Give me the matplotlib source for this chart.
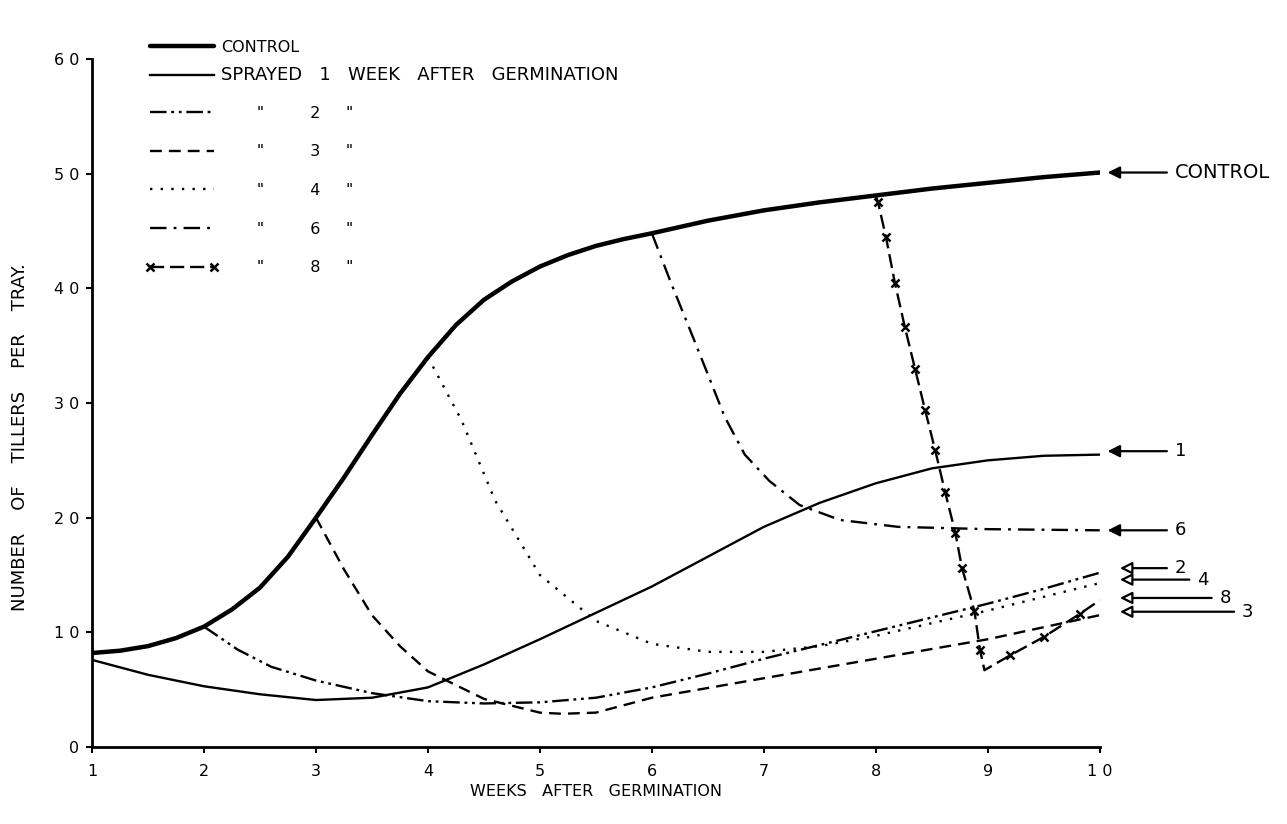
import numpy as np
import matplotlib
matplotlib.use("Agg")
import matplotlib.pyplot as plt

plt.rcParams['font.family'] = ['DejaVu Sans']

# values (weeks, tillers per tray)
control_x = [1, 1.25, 1.5, 1.75, 2, 2.25, 2.5, 2.75, 3, 3.25, 3.5, 3.75, 4, 4.25, 4.5,
             4.75, 5, 5.25, 5.5, 5.75, 6, 6.5, 7, 7.5, 8, 8.5, 9, 9.5, 10]
control_y = [8.2, 8.4, 8.8, 9.5, 10.5, 12.0, 13.9, 16.6, 20.0, 23.5, 27.2, 30.8, 34.0,
             36.8, 39.0, 40.6, 41.9, 42.9, 43.7, 44.3, 44.8, 45.9, 46.8, 47.5, 48.1,
             48.7, 49.2, 49.7, 50.1]

wk1_x = [1, 1.5, 2, 2.5, 3, 3.5, 4, 4.5, 5, 5.5, 6, 6.5, 7, 7.5, 8, 8.5, 9, 9.5, 10]
wk1_y = [7.6, 6.3, 5.3, 4.6, 4.1, 4.3, 5.2, 7.2, 9.4, 11.7, 14.0, 16.6, 19.2, 21.3,
         23.0, 24.3, 25.0, 25.4, 25.5]

wk2_x = [2, 2.3, 2.6, 3, 3.5, 4, 4.5, 5, 5.5, 6, 6.5, 7, 7.5, 8, 8.5, 9, 9.5, 10]
wk2_y = [10.5, 8.5, 7.0, 5.8, 4.7, 4.0, 3.8, 3.9, 4.3, 5.2, 6.4, 7.7, 8.9, 10.1,
         11.3, 12.5, 13.8, 15.2]

wk3_x = [3, 3.25, 3.5, 3.75, 4, 4.5, 5, 5.2, 5.5, 6, 7, 8, 9, 10]
wk3_y = [20.0, 15.5, 11.5, 8.8, 6.6, 4.2, 3.0, 2.9, 3.0, 4.3, 6.0, 7.7, 9.4, 11.5]

wk4_x = [4, 4.3, 4.6, 5, 5.5, 6, 6.5, 7, 7.5, 8, 8.5, 9, 9.5, 10]
wk4_y = [34.0, 28.5, 21.5, 15.0, 11.0, 9.0, 8.3, 8.3, 8.8, 9.7, 10.8, 11.9, 13.1, 14.3]

wk6_x = [6, 6.17, 6.34, 6.5, 6.65, 6.83, 7.05, 7.32, 7.68, 8.2, 9, 10]
wk6_y = [44.8, 40.5, 36.4, 32.5, 28.8, 25.5, 23.2, 21.1, 19.8, 19.2, 19.0, 18.9]

wk8_x = [8.0, 8.02, 8.09, 8.17, 8.26, 8.35, 8.44, 8.53, 8.62, 8.71, 8.77, 8.88, 8.93,
         8.97, 9.2, 9.5, 9.82, 10.0]
wk8_y = [48.1, 47.5, 44.5, 40.5, 36.6, 33.0, 29.4, 25.9, 22.2, 18.7, 15.6, 11.9, 8.5,
         6.7, 8.0, 9.6, 11.6, 12.8]
wk8_marks = [1, 2, 3, 4, 5, 6, 7, 8, 9, 10, 11, 12, 14, 15, 16]

x_ticks = [1, 2, 3, 4, 5, 6, 7, 8, 9, 10]
x_labels = ['1', '2', '3', '4', '5', '6', '7', '8', '9', '1 0']
y_ticks = [0, 10, 20, 30, 40, 50, 60]
y_labels = ['0', '1 0', '2 0', '3 0', '4 0', '5 0', '6 0']

# right-hand labels and the level of their arrows
end_labels = ['CONTROL', '1', '6', '2', '4', '8', '3']
end_y = [50.1, 25.8, 18.9, 15.6, 14.6, 13.0, 11.8]

fig = plt.figure(figsize=(12.87, 8.24), dpi=100)
ax = fig.add_axes([0.0715, 0.0934, 0.783, 0.835])

lw = 1.7
l_ctrl, = ax.plot(control_x, control_y, color='black', lw=3.2, solid_capstyle='round')
l1, = ax.plot(wk1_x, wk1_y, color='black', lw=lw)
l2, = ax.plot(wk2_x, wk2_y, color='black', lw=lw, ls=(0, (7, 2, 1.2, 2, 1.2, 2)))
l3, = ax.plot(wk3_x, wk3_y, color='black', lw=lw, ls=(0, (5, 3)))
l4, = ax.plot(wk4_x, wk4_y, color='black', lw=lw, ls=(0, (1, 3.5)))
l6, = ax.plot(wk6_x, wk6_y, color='black', lw=lw, ls=(0, (7, 3, 1.2, 3)))
l8, = ax.plot(wk8_x, wk8_y, color='black', lw=lw, ls=(0, (6, 2.5)),
              marker='x', markersize=6, markeredgewidth=1.8, markevery=wk8_marks)

ax.set_xlim(1, 10)
ax.set_ylim(0, 60)
ax.set_xticks(x_ticks)
ax.set_xticklabels(x_labels)
ax.set_yticks(y_ticks)
ax.set_yticklabels(y_labels)
ax.spines['top'].set_visible(False)
ax.spines['right'].set_visible(False)
ax.spines['left'].set_linewidth(2)
ax.spines['bottom'].set_linewidth(2)
ax.tick_params(axis='both', direction='out', length=4, width=1.5, labelsize=11.5)
ax.tick_params(axis='x', pad=8)
ax.tick_params(axis='y', pad=5)
ax.set_xlabel('WEEKS   AFTER   GERMINATION', fontsize=11.5, labelpad=4)
ax.set_ylabel('NUMBER    OF    TILLERS    PER    TRAY.', fontsize=13)
ax.yaxis.set_label_coords(-0.063, 0.45)

# arrows pointing at the end of each curve
for i, (txt, yv) in enumerate(zip(end_labels, end_y)):
    if i < 3:
        head_x, tail_x, fc = 10.07, 10.6, 'black'
    else:
        head_x, tail_x, fc = 10.18, 10.6 + 0.2 * (i - 3), 'white'
    ax.annotate('', xy=(head_x, yv), xytext=(tail_x, yv), annotation_clip=False,
                arrowprops=dict(arrowstyle='-|>', color='black', lw=1.6, fc=fc,
                                mutation_scale=18, shrinkA=0, shrinkB=0))
    ax.text(tail_x + 0.07, yv, txt, fontsize=14 if i == 0 else 13,
            va='center', ha='left', clip_on=False)

leg1 = ax.legend([l_ctrl, l1], ['CONTROL', 'SPRAYED   1   WEEK   AFTER   GERMINATION'],
                 loc='upper left', bbox_to_anchor=(0.0575, 1.028), frameon=False,
                 fontsize=11.5, handlelength=4.0, handletextpad=0.45,
                 labelspacing=0.72, borderpad=0, borderaxespad=0)
leg1.get_texts()[1].set_fontsize(13)
ax.add_artist(leg1)
ditto = ['       "         {}     "'.format(n) for n in ['2', '3', '4', '6', '8']]
ax.legend([l2, l3, l4, l6, l8], ditto, numpoints=2,
          loc='upper left', bbox_to_anchor=(0.0527, 0.932), frameon=False,
          fontsize=11.5, handlelength=4.6, handletextpad=0.15,
          labelspacing=1.48, borderpad=0, borderaxespad=0)

fig.savefig('out.png', dpi=100)
